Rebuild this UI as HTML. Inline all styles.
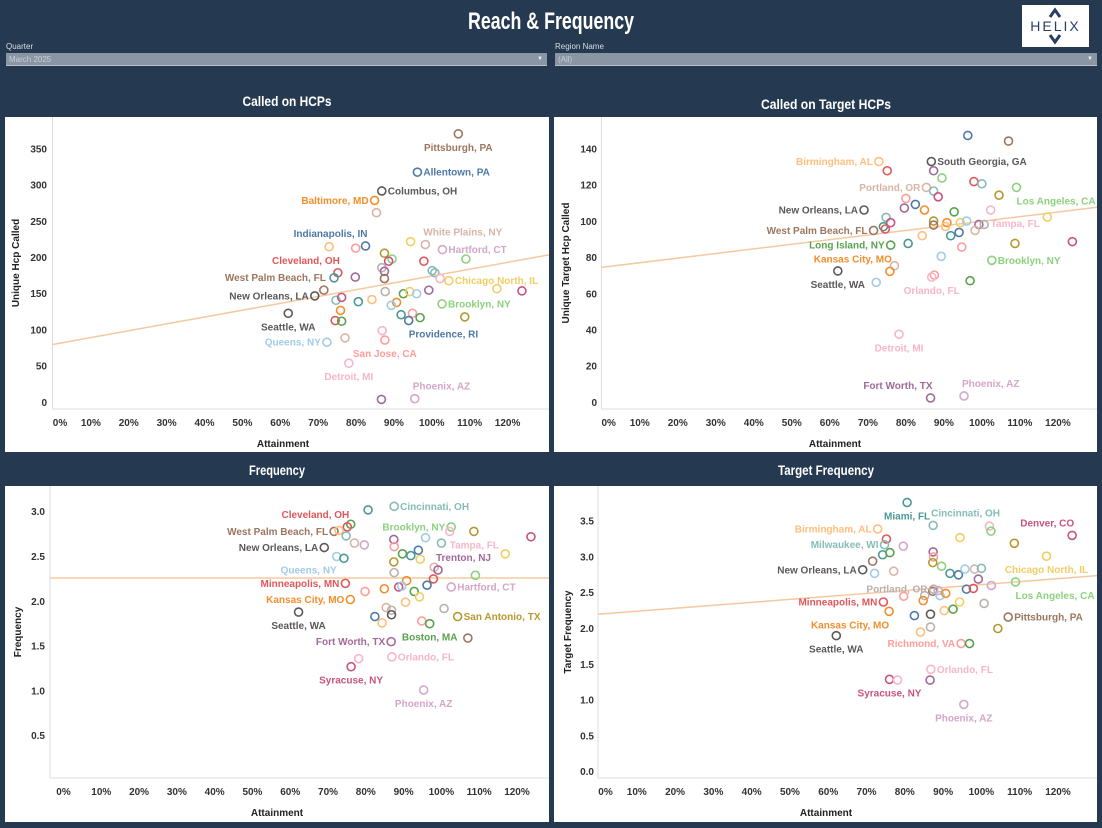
<!DOCTYPE html>
<html><head><meta charset="utf-8"><style>
html,body{margin:0;padding:0;}
body{width:1102px;height:828px;background:#253a51;position:relative;overflow:hidden;font-family:"Liberation Sans",sans-serif;}
.lbl{position:absolute;color:#d8dde3;font-size:8px;}
.dd{position:absolute;height:13px;background:#8a96a3;color:#c8cfd6;font-size:8px;line-height:13px;padding-left:3px;box-sizing:border-box;border-bottom:1px solid #b9c1c9;}
.dd span{position:absolute;right:4px;top:0;font-size:6px;color:#eee;}
.logo{position:absolute;left:1022px;top:5px;width:67px;height:42px;background:#fff;}
svg{position:absolute;left:0;top:0;}
</style></head><body>
<svg width="1102" height="40"><text x="551" y="29" text-anchor="middle" fill="#fff" font-family="Liberation Sans" font-weight="bold" font-size="24" textLength="166" lengthAdjust="spacingAndGlyphs">Reach &amp; Frequency</text></svg>
<div class="logo">
<svg width="67" height="42" viewBox="0 0 67 42"><path d="M28 12 L33 5 L38 12 M28 30 L33 37 L38 30" stroke="#2c3e63" stroke-width="3" fill="none"/><text x="33.5" y="26" text-anchor="middle" font-family="Liberation Sans" font-size="14" fill="#2c3e63" letter-spacing="2">HELIX</text></svg>
</div>
<div class="lbl" style="left:6px;top:42px">Quarter</div>
<div class="dd" style="left:6px;top:53px;width:541px">March 2025<span>▼</span></div>
<div class="lbl" style="left:555px;top:42px">Region Name</div>
<div class="dd" style="left:555px;top:53px;width:542px">(All)<span>▼</span></div>

<svg id="chart" width="1102" height="828" style="top:0"></svg>

<script>
// ---------- Panel 1: Called on HCPs ----------
const p1Att=[107.0,96.2,86.8,84.9,85.4,82.5,72.9,79.9,94.4,98.3,102.8,87.5,89.5,88.6,97.9,109.0,75.2,74.2,79.8,86.8,87.5,87.5,100.1,100.8,102.2,104.5,117.2,123.8,71.5,69.1,74.7,76.2,80.6,84.2,87.7,92.5,94.2,96.0,99.2,90.7,89.3,102.7,91.9,94.9,96.9,93.9,108.7,62.1,75.9,74.5,76.2,77.1,72.3,86.9,87.6,78.1,86.7,95.5];
const p1Val=[371,318,292,279,262,216,215,213,222,218,211,206,198,195,195,198,179,172,173,186,181,171,182,179,171,168,157,154,155,147,141,145,139,142,153,150,153,150,155,138,134,136,121,123,117,113,118,123,127,113,112,89,83,99,86,54,4,5];
const p1Col="NBKOnBorYnpLgMRgRTPkPNttmYYMNKtMTokGYbPObgTrGBLKORGnbmrmPp";
const p1Names={0:"Pittsburgh, PA",1:"Allentown, PA",2:"Columbus, OH",3:"Baltimore, MD",5:"Indianapolis, IN",9:"White Plains, NY",10:"Hartford, CT",16:"Cleveland, OH",25:"Chicago North, IL",28:"West Palm Beach, FL",29:"New Orleans, LA",41:"Brooklyn, NY",45:"Providence, RI",47:"Seattle, WA",52:"Queens, NY",54:"San Jose, CA",55:"Detroit, MI",57:"Phoenix, AZ"};
const p1Side={0:"b",1:"r",2:"r",3:"l",5:"tl",9:"tr",10:"r",16:"tl",25:"r",28:"tl",29:"l",41:"r",45:"br",47:"b",52:"l",54:"b",55:"b",57:"tr"};
const p1YTicks=[0,50,100,150,200,250,300,350];
const p1Trend=[80,0.945];

// ---------- Panel 2: Called on Target HCPs ----------
const p2Att=[96.3,107.0,72.9,86.7,75.1,87.3,89.5,97.9,100.0,109.1,85.4,87.3,88.5,104.5,80.0,82.5,79.6,69.0,84.9,92.7,102.3,74.8,87.3,90.8,94.3,96.0,99.2,100.6,117.2,76.0,74.1,74.6,71.5,87.3,90.4,98.2,94.0,91.8,84.3,76.0,80.6,108.7,123.8,94.7,89.3,102.6,77.0,62.1,75.8,87.5,86.8,96.9,72.2,78.2,86.5,95.3];
const p2Val=[147.5,144.4,133.1,133.1,128,128,124,122,120.8,118.8,118.8,116.8,113.6,114.5,112.7,109.4,107.4,106.3,106.3,105.3,106.3,102.2,100.2,99.3,99.3,100.2,98.3,98.3,102.4,99.3,97.1,95.8,95,98,97.2,95,93.9,92.1,92.1,86.9,87.8,87.8,88.8,85.8,80.7,78.5,75.5,72.6,72.4,70.3,69.2,67.2,66.3,37.6,2.4,3.5];
const p2Col="BNoKRPgRtgntMLrBPKOGmtLOYbPkYMTRNNonBToGTLMrbgnKOrmGbmPp";
const p2Names={2:"Birmingham, AL",3:"South Georgia, GA",9:"Los Angeles, CA",10:"Portland, OR",17:"New Orleans, LA",20:"Tampa, FL",32:"West Palm Beach, FL",39:"Long Island, NY",45:"Brooklyn, NY",47:"Seattle, WA",48:"Kansas City, MO",50:"Orlando, FL",53:"Detroit, MI",54:"Fort Worth, TX",55:"Phoenix, AZ"};
const p2Side={2:"l",3:"r",9:"br",10:"l",17:"l",20:"br",32:"l",39:"l",45:"r",47:"b",48:"tl",50:"b",53:"b",54:"tl",55:"tr"};
const p2YTicks=[0,20,40,60,80,100,120,140];
const p2Trend=[74.6,0.255];

// ---------- Panel 3: Frequency ----------
const p3Att=[80.6,87.5,76,75.1,71.6,72.9,74.8,77,79.6,69,72.3,74.2,102.6,102.2,108.6,123.7,87.4,95.8,100,87.5,93.9,89.7,91.9,94.4,116.9,87.4,98.1,99.1,87.5,109,74.6,97.9,90.8,96.2,88.7,89.5,84.9,79.8,102.6,92.8,94.2,75.9,90.5,85.4,86.8,100.7,62.2,82.4,86.8,104.3,84.3,94.8,96.9,107,86.7,78.1,86.9,76.1,95.3];
const p3Val=[3.02,3.06,2.86,2.83,2.78,2.79,2.73,2.65,2.63,2.60,2.50,2.48,2.83,2.78,2.78,2.72,2.69,2.71,2.65,2.61,2.57,2.53,2.51,2.47,2.53,2.44,2.38,2.35,2.32,2.29,2.20,2.25,2.23,2.18,2.16,2.17,2.14,2.11,2.16,2.11,2.05,2.02,1.99,1.93,1.90,1.92,1.88,1.83,1.85,1.83,1.76,1.78,1.75,1.59,1.55,1.36,1.38,1.27,1.01];
const p3Col="TtGRNotnpKbTgmLMPbtrBGTYYLnPkgRROBMbOrpGYOonkkKBKLorGNPmmMp";
const p3Names={1:"Cincinnati, OH",3:"Cleveland, OH",4:"West Palm Beach, FL",9:"New Orleans, LA",10:"Queens, NY",12:"Brooklyn, NY",13:"Tampa, FL",27:"Trenton, NJ",30:"Minneapolis, MN",38:"Hartford, CT",41:"Kansas City, MO",46:"Seattle, WA",49:"San Antonio, TX",52:"Boston, MA",54:"Fort Worth, TX",56:"Orlando, FL",57:"Syracuse, NY",58:"Phoenix, AZ"};
const p3Side={1:"r",3:"tl",4:"l",9:"l",10:"bl",12:"l",13:"br",27:"tr",30:"l",38:"r",41:"l",46:"b",49:"r",52:"b",54:"l",56:"r",57:"b",58:"b"};
const p3YTicks=[0.5,1.0,1.5,2.0,2.5,3.0];
const p3Trend=[2.26,0];

// ---------- Panel 4: Target Frequency ----------
const p4Att=[80.6,87.4,72.9,75.2,74.7,79.6,102.1,102.5,94.4,123.7,108.6,117.0,74.2,76.1,87.4,87.5,87.3,71.6,69.0,72.1,77.1,89.6,91.8,94.0,95.7,98.2,100.0,99.2,108.9,102.6,87.3,87.5,88.7,85.2,89.2,90.7,96.1,97.9,79.7,74.4,84.8,94.3,100.7,75.9,90.3,92.6,82.5,86.7,107.0,86.7,104.3,84.1,62.1,94.7,96.9,86.8,76.0,78.1,86.6,95.4];
const p4Val=[3.76,3.44,3.39,3.25,3.17,3.15,3.43,3.36,3.27,3.30,3.19,3.01,3.03,3.06,3.07,3.0,2.92,2.94,2.82,2.77,2.80,2.87,2.77,2.75,2.83,2.83,2.84,2.69,2.65,2.60,2.52,2.55,2.53,2.46,2.46,2.49,2.55,2.56,2.45,2.37,2.39,2.37,2.35,2.24,2.25,2.27,2.18,2.20,2.16,2.02,2.0,1.95,1.90,1.79,1.79,1.43,1.29,1.28,1.28,0.94];
const p4Col="TtoRtpmgYMLYTGPrLNKbngTBbntPgpNkpkbOBRrROYkOoGBKNkLoKrGmMmPp";
const p4Names={0:"Miami, FL",1:"Cincinnati, OH",2:"Birmingham, AL",4:"Milwaukee, WI",9:"Denver, CO",11:"Chicago North, IL",18:"New Orleans, LA",28:"Los Angeles, CA",31:"Portland, OR",39:"Minneapolis, MN",43:"Kansas City, MO",48:"Pittsburgh, PA",52:"Seattle, WA",53:"Richmond, VA",55:"Orlando, FL",56:"Syracuse, NY",59:"Phoenix, AZ"};
const p4Side={0:"b",1:"tr",2:"l",4:"l",9:"tl",11:"b",18:"l",28:"br",31:"l",39:"l",43:"bl",48:"r",52:"b",53:"l",55:"r",56:"b",59:"b"};
const p4YTicks=[0.0,0.5,1.0,1.5,2.0,2.5,3.0,3.5];
const p4Trend=[2.2,0.00413];

const xTicks=[0,10,20,30,40,50,60,70,80,90,100,110,120];

const PAL={B:"#4e79a7",b:"#a0cbe8",O:"#f28e2b",o:"#ffbe7d",G:"#59a14f",g:"#8cd17d",L:"#b6992d",Y:"#f1ce63",T:"#499894",t:"#86bcb6",R:"#e15759",r:"#ff9d9a",K:"#5d5858",k:"#bab0ac",M:"#c9527f",m:"#f7b6c8",P:"#a0699a",p:"#d4a6c8",N:"#9d7660",n:"#d7b5a6"};
const NS="http://www.w3.org/2000/svg";
const svg=document.getElementById('chart');
function mk(tag,attrs,parent){const e=document.createElementNS(NS,tag);for(const k in attrs)e.setAttribute(k,attrs[k]);(parent||svg).appendChild(e);return e;}

function panel(cfg){
  const g=mk('g',{});
  
  
  const tt=mk('text',{x:cfg.titleX,y:cfg.titleY,'text-anchor':'middle',fill:'#fff','font-family':'"Liberation Sans",sans-serif','font-weight':'bold','font-size':'14',textLength:cfg.titleW,lengthAdjust:'spacingAndGlyphs'},g);
  tt.textContent=cfg.title;
  
  
  const bg=mk('rect',{x:cfg.box[0],y:cfg.box[1],width:cfg.box[2]-cfg.box[0],height:cfg.box[3]-cfg.box[1],fill:'#fff'},g);
  
  
  const X=a=>cfg.x0+a*cfg.kx, Y=v=>cfg.y0-v*cfg.ky;
  const L=cfg.plot[0],T=cfg.plot[1],R=cfg.plot[2],B=cfg.plot[3];
  mk('line',{x1:L,y1:T,x2:L,y2:B,stroke:'#ddd','stroke-width':1},g);
  mk('line',{x1:L,y1:B,x2:R,y2:B,stroke:'#ddd','stroke-width':1},g);
  const cid='clip'+cfg.name;
  const cp=mk('clipPath',{id:cid},g);mk('rect',{x:L,y:T,width:R-L,height:B-T},cp);
  xTicks.forEach(t=>{
    const tx=mk('text',{x:X(t)+(t===0?cfg.zeroShift:0),y:cfg.xLabY,'text-anchor':'middle','font-size':'10','font-weight':'bold',fill:'#333'},g);
    tx.textContent=t+'%';
    
    
  });
  cfg.yTicks.forEach(t=>{
    const ty=mk('text',{x:cfg.yLabX,y:Y(t)+3.5,'text-anchor':'end','font-size':'10','font-weight':'bold',fill:'#333'},g);
    ty.textContent=cfg.yDec?t.toFixed(1):t;
    
    
  });
  const xt=mk('text',{x:cfg.xTitle[0],y:cfg.xTitle[1],'text-anchor':'middle','font-size':'10','font-weight':'bold',fill:'#222'},g);
  xt.textContent='Attainment';
  
  
  const yt=mk('text',{x:0,y:0,'text-anchor':'middle','font-size':'10','font-weight':'bold',fill:'#222',transform:`translate(${cfg.yTitle[0]},${cfg.yTitle[1]}) rotate(-90)`},g);
  yt.textContent=cfg.yTitleText;
  
  
  const a1=(L-cfg.x0)/cfg.kx, a2=(R-cfg.x0)/cfg.kx;
  const tl=mk('line',{x1:L,y1:Y(cfg.trend[0]+cfg.trend[1]*a1),x2:R,y2:Y(cfg.trend[0]+cfg.trend[1]*a2),stroke:'#f5c9a0','stroke-width':1.5,'clip-path':`url(#${cid})`},g);
  
  
  cfg.att.forEach((a,i)=>{
    const px=X(a),py=Y(cfg.val[i]),col=PAL[cfg.col[i]]||'#888';
    const c=mk('circle',{cx:px,cy:py,r:4,fill:'none',stroke:col,'stroke-width':1.6},g);
    
    
    if(cfg.names[i]){
      const s=cfg.side[i];let x=px,y=py+3.5,anc='start';
      if(s==='r'){x=px+6;}
      else if(s==='l'){x=px-6;anc='end';}
      else if(s==='b'){y=py+17;anc='middle';}
      else if(s==='t'){y=py-8;anc='middle';}
      else if(s==='tl'){x=px+2;y=py-9;anc='end';}
      else if(s==='tr'){x=px-2;y=py-9;}
      else if(s==='bl'){x=px;y=py+17;anc='end';}
      else if(s==='br'){x=px;y=py+17;}
      const lt=mk('text',{x:x,y:y,'text-anchor':anc,'font-size':'10','font-weight':'bold',fill:col},g);
      lt.textContent=cfg.names[i];
      
      
    }
  });
}

panel({name:'called-on-hcps',title:'Called on HCPs',titleW:89,titleX:287,titleY:106,box:[5,117,549,452],plot:[52.5,117,549,409],
  x0:53,kx:3.788,y0:402.3,ky:0.7237,zeroShift:7,xLabY:426,yLabX:47,xTitle:[283,447],yTitle:[19,263],yTitleText:'Unique Hcp Called',
  att:p1Att,val:p1Val,col:p1Col,names:p1Names,side:p1Side,yTicks:p1YTicks,trend:p1Trend,yDec:false});
panel({name:'called-on-target-hcps',title:'Called on Target HCPs',titleW:130,titleX:826,titleY:109,box:[554,117,1097,452],plot:[601.5,117,1097,409],
  x0:601.7,kx:3.802,y0:402.3,ky:1.809,zeroShift:7,xLabY:426,yLabX:597,xTitle:[835,447],yTitle:[569,263],yTitleText:'Unique Target Hcp Called',
  att:p2Att,val:p2Val,col:p2Col,names:p2Names,side:p2Side,yTicks:p2YTicks,trend:p2Trend,yDec:false});
panel({name:'frequency',title:'Frequency',titleW:56,titleX:277,titleY:475,box:[5,486,549,822],plot:[50,486,549,778],
  x0:63.5,kx:3.779,y0:780.5,ky:89.6,zeroShift:0,xLabY:795,yLabX:45,xTitle:[277,816],yTitle:[21,632],yTitleText:'Frequency',
  att:p3Att,val:p3Val,col:p3Col,names:p3Names,side:p3Side,yTicks:p3YTicks,trend:p3Trend,yDec:true});
panel({name:'target-frequency',title:'Target Frequency',titleW:96,titleX:826,titleY:475,box:[554,486,1097,822],plot:[598,486,1097,778],
  x0:598.5,kx:3.829,y0:771.7,ky:71.6,zeroShift:7,xLabY:795,yLabX:594,xTitle:[826,816],yTitle:[571,632],yTitleText:'Target Frequency',
  att:p4Att,val:p4Val,col:p4Col,names:p4Names,side:p4Side,yTicks:p4YTicks,trend:p4Trend,yDec:true});
</script>
</body></html>
